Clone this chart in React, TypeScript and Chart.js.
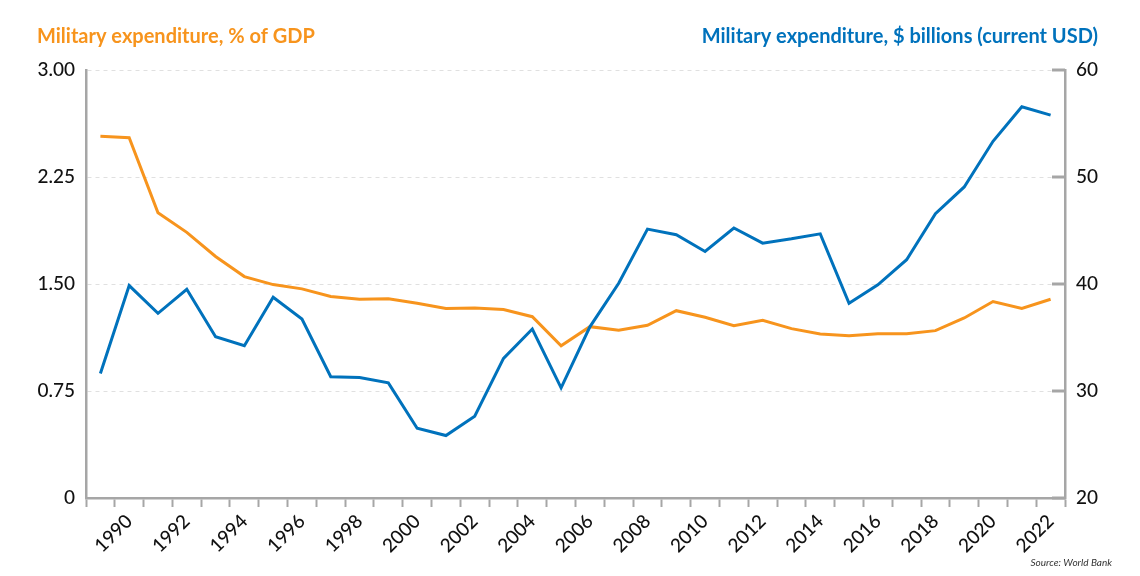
import React, { useEffect, useRef } from "react";
import { Chart, registerables } from "chart.js";

Chart.register(...registerables);

const years: string[] = [
  "1989", "1990", "1991", "1992", "1993", "1994", "1995", "1996", "1997", "1998",
  "1999", "2000", "2001", "2002", "2003", "2004", "2005", "2006", "2007", "2008",
  "2009", "2010", "2011", "2012", "2013", "2014", "2015", "2016", "2017", "2018",
  "2019", "2020", "2021", "2022",
];

const gdpShare: number[] = [
  2.536, 2.525, 2.0, 1.862, 1.693, 1.552, 1.496, 1.466, 1.412, 1.393,
  1.396, 1.365, 1.328, 1.332, 1.321, 1.271, 1.067, 1.201, 1.176, 1.211,
  1.313, 1.267, 1.208, 1.246, 1.187, 1.15, 1.138, 1.152, 1.152, 1.173,
  1.262, 1.377, 1.328, 1.393,
];

const spendingBn: number[] = [
  31.64, 39.85, 37.26, 39.51, 35.07, 34.23, 38.76, 36.73, 31.33, 31.27,
  30.76, 26.52, 25.84, 27.64, 33.05, 35.79, 30.3, 36.0, 40.07, 45.13,
  44.6, 43.04, 45.23, 43.82, 44.22, 44.69, 38.2, 39.92, 42.27, 46.57,
  49.07, 53.34, 56.56, 55.78,
];

const leftTickLabels: string[] = ["0", "0.75", "1.50", "2.25", "3.00"];
const rightTickLabels: string[] = ["20", "30", "40", "50", "60"];

const leftTitle = "Military expenditure, % of GDP";
const rightTitle = "Military expenditure, $ billions (current USD)";
const sourceText = "Source: World Bank";

const ORANGE = "#F7941D";
const BLUE = "#0072BC";
const AXIS = "#a6a6a6";
const TEXT = "#111111";
const FONT = "Lato, 'Open Sans', sans-serif";

const overlayPlugin = {
  id: "overlay",
  afterDraw(chart: any) {
    const ctx = chart.ctx;
    const y1 = chart.scales.y1;
    const area = chart.chartArea;
    ctx.save();
    // inward tick marks on the right axis
    ctx.strokeStyle = AXIS;
    ctx.lineWidth = 3;
    y1.ticks.forEach((t: any) => {
      const py = Math.round(y1.getPixelForValue(t.value));
      ctx.beginPath();
      ctx.moveTo(area.right - 13, py);
      ctx.lineTo(area.right, py);
      ctx.stroke();
    });
    // titles
    ctx.font = `bold 20px ${FONT}`;
    ctx.textBaseline = "alphabetic";
    ctx.fillStyle = ORANGE;
    ctx.textAlign = "left";
    ctx.fillText(leftTitle, 37, 43);
    ctx.fillStyle = BLUE;
    ctx.textAlign = "right";
    ctx.fillText(rightTitle, 1098, 43);
    // source
    ctx.font = `italic 10px ${FONT}`;
    ctx.fillStyle = "#333333";
    ctx.textAlign = "right";
    ctx.fillText(sourceText, 1112, 566);
    ctx.restore();
  },
};

export default function App() {
  const ref = useRef<HTMLCanvasElement | null>(null);

  useEffect(() => {
    if (!ref.current) return;
    const tickFont = { family: FONT, size: 19, weight: "500" as any };
    const chart = new Chart(ref.current, {
      type: "line",
      data: {
        labels: years,
        datasets: [
          {
            label: "Military expenditure, $ billions (current USD)",
            data: spendingBn,
            yAxisID: "y1",
            borderColor: BLUE,
            backgroundColor: BLUE,
            borderWidth: 3,
            pointRadius: 0,
            tension: 0,
          },
          {
            label: "Military expenditure, % of GDP",
            data: gdpShare,
            yAxisID: "y",
            borderColor: ORANGE,
            backgroundColor: ORANGE,
            borderWidth: 3,
            pointRadius: 0,
            tension: 0,
          },
        ],
      },
      options: {
        responsive: false,
        maintainAspectRatio: false,
        animation: false,
        layout: { padding: { top: 70, left: 0, right: 0, bottom: 0 } },
        plugins: {
          legend: { display: false },
          tooltip: { enabled: false },
          title: { display: false },
        },
        scales: {
          x: {
            type: "category",
            offset: true,
            grid: {
              offset: true,
              drawOnChartArea: false,
              drawTicks: true,
              tickLength: 9,
              tickWidth: 2,
              tickColor: AXIS,
            },
            border: { display: true, color: AXIS, width: 2.5 },
            ticks: {
              autoSkip: false,
              minRotation: 45,
              maxRotation: 45,
              padding: 3,
              color: TEXT,
              font: tickFont,
              callback: (_v: any, i: number) => (i % 2 === 1 ? years[i] : ""),
            },
            afterFit: (s: any) => {
              s.height = 78;
            },
          },
          y: {
            position: "left",
            min: 0,
            max: 3,
            grid: {
              drawTicks: false,
              color: (c: any) => (c.tick && c.tick.value === 0 ? "rgba(0,0,0,0)" : "#e0e0e0"),
              lineWidth: 1,
            },
            border: { display: true, color: AXIS, width: 2.5, dash: [4, 4] } as any,
            ticks: {
              stepSize: 0.75,
              padding: 11,
              color: TEXT,
              font: tickFont,
              callback: (_v: any, i: number) => leftTickLabels[i],
            },
            afterFit: (s: any) => {
              s.width = 86;
            },
          },
          y1: {
            position: "right",
            min: 20,
            max: 60,
            grid: { drawOnChartArea: false, drawTicks: false },
            border: { display: true, color: AXIS, width: 2.5 },
            ticks: {
              stepSize: 10,
              padding: 11,
              color: TEXT,
              font: tickFont,
              callback: (_v: any, i: number) => rightTickLabels[i],
            },
            afterFit: (s: any) => {
              s.width = 75;
            },
          },
        },
      },
      plugins: [overlayPlugin],
    });
    let alive = true;
    if ((document as any).fonts && (document as any).fonts.ready) {
      (document as any).fonts.ready.then(() => {
        if (alive) chart.update();
      });
    }
    return () => {
      alive = false;
      chart.destroy();
    };
  }, []);

  return (
    <div style={{ position: "fixed", left: 0, top: 0, width: 1140, height: 576, background: "#ffffff" }}>
      <canvas ref={ref} width={1140} height={576} style={{ width: 1140, height: 576, display: "block" }} />
    </div>
  );
}
